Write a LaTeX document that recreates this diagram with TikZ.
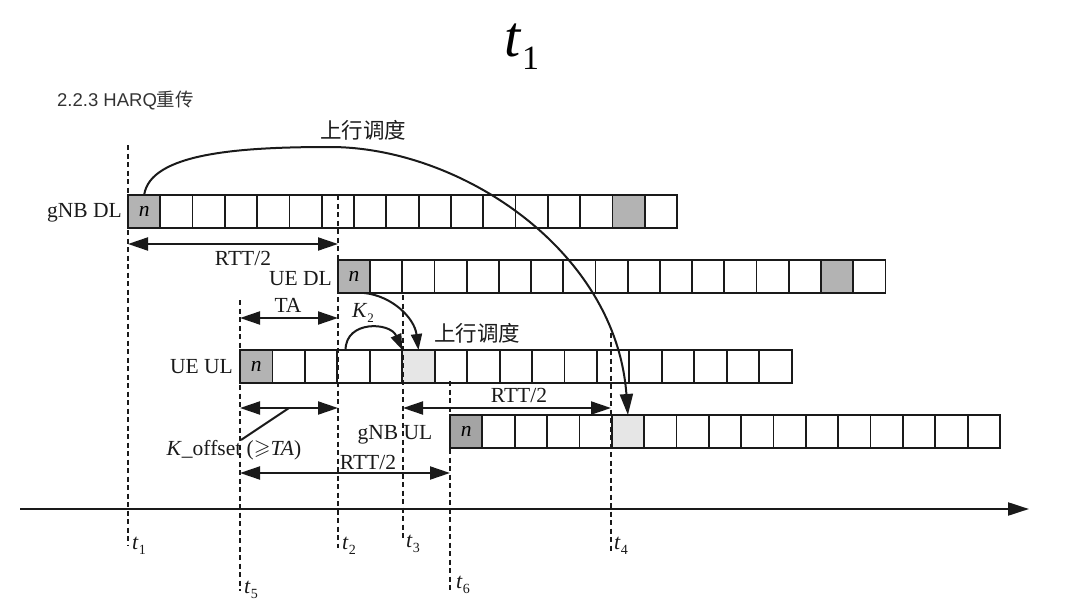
\documentclass[tikz,border=0pt]{standalone}
\usepackage{amssymb}
\usepackage{fontspec}
\setmainfont{Liberation Serif}
\setsansfont{Liberation Sans}
\newfontfamily\cjk{Noto Sans CJK SC}
\usetikzlibrary{arrows.meta}
\definecolor{ink}{HTML}{1A1A1A}
\definecolor{darkcell}{HTML}{B3B3B3}
\definecolor{darkcellb}{HTML}{A4A4A4}
\definecolor{lightcell}{HTML}{E6E6E6}
\newcommand{\lblsize}{\fontsize{21.5}{25}\selectfont}
\newcommand{\tlab}[2]{\textit{#1}\raisebox{-0.55ex}{\fontsize{14}{14}\selectfont #2}}
\begin{document}
\begin{tikzpicture}[x=1pt,y=-1pt,
  cell/.style={draw=ink, line width=1.8pt, minimum width=32.35pt, minimum height=33pt,
    inner sep=0pt, outer sep=0pt, fill=white, font=\lblsize\itshape},
  vline/.style={draw=ink, line width=2pt, dash pattern=on 5pt off 3.5pt},
  dbl/.style={draw=ink, line width=2pt, {Triangle[length=20pt,width=13pt]}-{Triangle[length=20pt,width=13pt]}},
  bigarr/.style={draw=ink, line width=2pt, -{Triangle[length=21pt,width=13pt]}},
  smallarr/.style={draw=ink, line width=2pt, -{Triangle[length=16pt,width=11pt]}},
  lab/.style={font=\lblsize, inner sep=0pt, text=ink},
  cjklab/.style={font=\cjk\lblsize, inner sep=0pt, text=ink},
  tl/.style={font=\fontsize{22}{24}\selectfont, inner sep=0pt, text=ink, anchor=base west},
]
\useasboundingbox (0,0) rectangle (1080,602);

% title and header
\node[font=\fontsize{58}{64}\selectfont, inner sep=0pt] (title) at (522,47)
  {\textit{t}\raisebox{-0.5ex}{\fontsize{34}{34}\selectfont 1}};
\node[anchor=west, font=\sffamily\fontsize{18.5}{20}\selectfont, text=black!80, inner sep=0pt] (hdr) at (57,101)
  {2.2.3 HARQ{\cjk 重传}};

% rows of cells
\foreach \i in {0,...,16} {
  \node[cell] (a\i) at ({128+32.3*(\i+0.5)}, 211.5) {};
  \node[cell] (b\i) at ({338+32.2*(\i+0.5)}, 276.5) {};
  \node[cell] (c\i) at ({240+32.45*(\i+0.5)}, 366.5) {};
  \node[cell] (d\i) at ({450+32.35*(\i+0.5)}, 431.5) {};
}
\node[cell, fill=darkcell] (a0) at (a0.center) {n};
\node[cell, fill=darkcell] (a15) at (a15.center) {};
\node[cell, fill=darkcell] (b0) at (b0.center) {n};
\node[cell, fill=darkcell] (b15) at (b15.center) {};
\node[cell, fill=darkcell] (c0) at (c0.center) {n};
\node[cell, fill=lightcell] (c5) at (c5.center) {};
\node[cell, fill=darkcellb] (d0) at (d0.center) {n};
\node[cell, fill=lightcell] (d5) at (d5.center) {};

% row labels
\node[lab, anchor=east] (lgdl) at (122,213) {gNB DL};
\node[lab, anchor=east] (ledl) at (332,279) {UE DL};
\node[lab, anchor=east] (leul) at (233,367) {UE UL};
\node[lab] (lgul) at (395,435) {gNB UL};

% dashed time lines
\coordinate (v1t) at (128,145); \coordinate (v1b) at (128,546);
\coordinate (v2t) at (338,195); \coordinate (v2b) at (338,548);
\coordinate (v3t) at (403,295); \coordinate (v3b) at (403,541);
\coordinate (v4t) at (611,333); \coordinate (v4b) at (611,551);
\coordinate (v5t) at (240,300); \coordinate (v5b) at (240,591);
\coordinate (v6t) at (450,381); \coordinate (v6b) at (450,591);
\foreach \k in {1,...,6} { \draw[vline] (v\k t) -- (v\k b); }

% time axis
\coordinate (ax0) at (20,509);
\coordinate (ax1) at (1029,509);
\draw[bigarr, line width=2.2pt] (ax0) -- (ax1);

% time labels
\node[tl] (lt1) at (132,549) {\tlab{t}{1}};
\node[tl] (lt2) at (342,549) {\tlab{t}{2}};
\node[tl] (lt3) at (406,547) {\tlab{t}{3}};
\node[tl] (lt4) at (614,549) {\tlab{t}{4}};
\node[tl] (lt5) at (244,593) {\tlab{t}{5}};
\node[tl] (lt6) at (456,588) {\tlab{t}{6}};

% RTT/2 gNB DL -> UE DL
\coordinate (r1a) at (128,244); \coordinate (r1b) at (338,244);
\draw[dbl] (r1a) -- (r1b);
\node[lab] (lr1) at (243,258) {RTT/2};

% TA
\coordinate (taa) at (240,318); \coordinate (tab) at (338,318);
\draw[dbl] (taa) -- (tab);
\node[lab] (lta) at (288,305) {TA};

% K_offset
\coordinate (koa) at (240,408); \coordinate (kob) at (338,408);
\draw[dbl] (koa) -- (kob);
\coordinate (kos) at (289,408); \coordinate (koe) at (241,440);
\draw[draw=ink, line width=2pt] (kos) -- (koe);
\node[lab] (lko) at (234,450) {\textit{K}\_offset (\raisebox{0.1ex}{$\geqslant$}\textit{TA})};

% RTT/2 UE UL -> gNB UL (bottom)
\coordinate (r3a) at (240,473); \coordinate (r3b) at (450,473);
\draw[dbl] (r3a) -- (r3b);
\node[lab] (lr3) at (368,462) {RTT/2};

% RTT/2 t3 -> t4
\coordinate (r2a) at (403,408); \coordinate (r2b) at (611,408);
\draw[dbl] (r2a) -- (r2b);
\node[lab] (lr2) at (519,395) {RTT/2};

% big scheduling arc
\coordinate (archtop) at (330,147);
\draw[bigarr] (a0.north) .. controls +(6,-42) and +(-90,0) .. (archtop)
  .. controls +(130,0) and +(-12,-165) .. (d5.north);
\node[cjklab] (lsch1) at (363,130) {上行调度};

% UE DL n -> UE UL light cell
\draw[smallarr] ([xshift=-6pt]b0.south east) .. controls +(28,3) and +(-4,-32) .. (c5.north);
% K2 arc
\draw[smallarr] ([xshift=-8pt]c3.north) .. controls +(0,-30) and +(-12,-28) .. (c5.north west);
\node[lab] (lk2) at (363,313) {\textit{K}\raisebox{-0.55ex}{\fontsize{13}{13}\selectfont 2}};
\node[cjklab] (lsch2) at (477,333) {上行调度};
\end{tikzpicture}
\end{document}
